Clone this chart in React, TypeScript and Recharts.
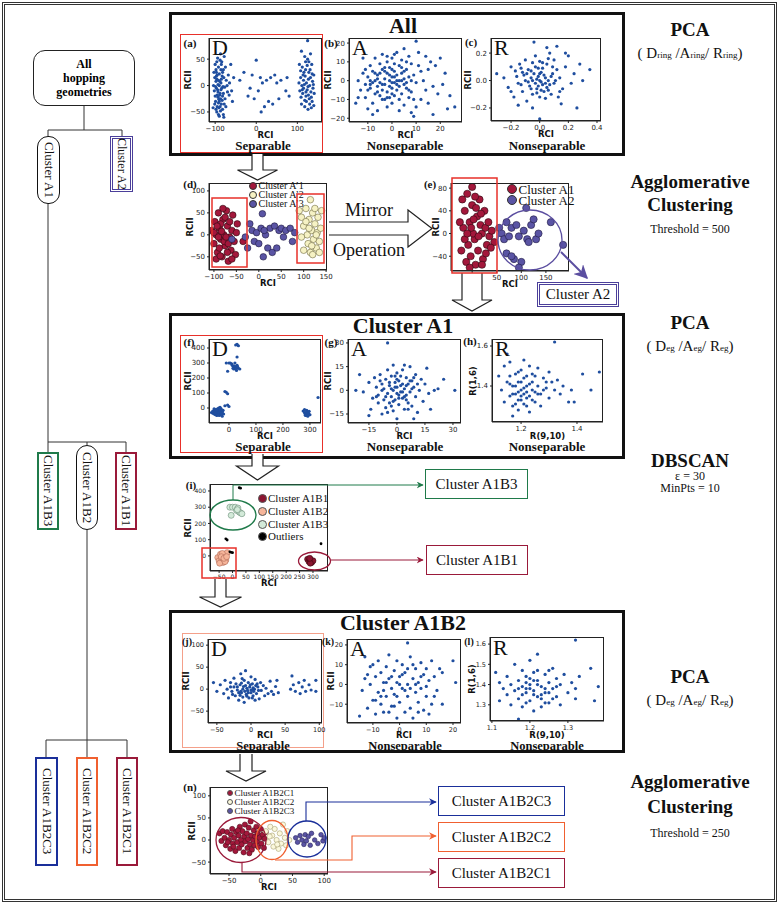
import React from "react";
import { ScatterChart, Scatter, XAxis, YAxis } from "recharts";

type Pt = [number, number];

const SERIF = '"Liberation Serif", serif';
const SANS = '"DejaVu Sans", sans-serif';
const BLUE = "#1f4e9f";

// (a) All, D
const allD: Pt[] = [
  [-100, 40], [-98, 30], [-95, 20], [-92, 10], [-90, 0], [-97, -5], [-102, -10], [-88, -15], [-93, -22], [-99, -30],
  [-85, -35], [-91, -42], [-96, -50], [-80, -55], [-87, 60], [-78, 55], [-84, 45], [-75, 35], [-82, 25], [-79, 15],
  [-86, 5], [-77, -3], [-94, -8], [-89, -18], [-83, -28], [-101, 15], [-104, 0], [-97, 25], [-92, 35], [-88, 48],
  [-100, -20], [-95, -40], [-90, -58], [-82, -45], [-76, -25], [-73, 10], [-70, -12], [-68, 20], [-65, 5], [-60, -10],
  [-55, 15], [-58, -30], [-62, 40], [-85, 12], [-93, 2], [-98, 8], [-86, -8], [-81, -2], [-90, -30], [-96, 45],
  [-105, -42], [-103, 25], [-80, 30], [-74, -40], [-79, -60], [-92, -55], [-87, -48], [-94, 52], [-71, 0], [-66, -18],
  [-99, -2], [-96, 12], [-93, -12], [-90, 22], [-87, -25], [-84, -5], [-101, -35], [-95, -18], [-89, 8], [-83, 18],
  [-80, -15], [-78, -35], [-92, -33], [-86, 30], [-98, -45], [-82, -20], [-88, -40], [-97, 18], [-91, -26], [-85, 40],
  [-30, 25], [-20, -20], [-10, 20], [0, 48], [5, -10], [10, 15], [15, 5], [20, -40], [25, 10], [30, -30],
  [35, 15], [40, -35], [45, 20], [50, 5], [12, -50], [-5, -25], [60, 10], [72, -10], [75, 15], [80, -20],
  [-40, 10], [-15, -5], [55, -25],
  [110, 65], [118, 55], [125, 50], [132, 60], [105, 40], [112, 35], [120, 30], [128, 25], [135, 40], [140, 20],
  [108, 15], [115, 10], [122, 5], [130, 0], [138, -5], [106, -10], [113, -15], [121, -20], [129, -25], [136, -30],
  [110, -35], [118, -40], [126, -45], [134, -42], [140, -38], [125, 85], [115, -5], [127, 12], [133, -12], [119, 18],
  [111, 0], [124, -8], [131, 30], [137, 8], [116, 25], [122, -30], [109, -22], [128, 45], [141, -15], [104, 5],
  [114, 20], [121, -12], [127, -18], [132, 15], [118, -28], [124, 38], [112, -8], [130, -35], [136, 22], [120, 45],
  [117, 2], [126, -2], [134, -22], [108, 28], [139, 2],
];

// (b) All, A
const allA: Pt[] = [
  [-15, -12], [-14, 0], [-13, -5], [-12, 4], [-11, -9], [-10, 2], [-10, -15], [-9, 8], [-9, -4], [-8, -12],
  [-8, 5], [-7, 0], [-7, -7], [-7, 12], [-6, 3], [-6, -3], [-6, -16], [-5, 9], [-5, -1], [-5, -8],
  [-4, 6], [-4, -5], [-4, 14], [-3, 1], [-3, -2], [-3, -10], [-2, 4], [-2, -6], [-2, 10], [-1, 0],
  [-1, -3], [-1, 7], [0, 2], [0, -4], [0, 12], [0, -12], [1, 5], [1, -1], [1, -8], [2, 3],
  [2, -5], [2, 15], [3, 0], [3, 8], [3, -3], [4, -7], [4, 4], [4, 11], [5, -2], [5, 1],
  [5, -13], [6, 6], [6, -4], [7, 2], [7, -9], [7, 13], [8, 9], [8, -6], [8, -17], [9, 3],
  [9, -19], [10, 21], [10, -1], [10, -14], [11, 15], [11, 8], [12, -10], [12, 5], [13, 0], [14, -5],
  [14, 13], [15, 6], [15, -12], [16, 10], [17, -18], [17, -3], [18, 8], [19, -7], [20, 12], [21, -2],
  [22, 4], [23, -15], [24, -8], [26, -14], [-12, 12], [-8, -18], [-11, 6], [-14, -9], [-9, -2], [3, -16],
  [5, 17], [-2, -14], [-6, 1], [-3, 5], [1, 2], [-4, -2], [2, -2], [0, 6], [-1, -9], [4, 0],
  [-5, 4], [-4, -10], [-2, -9], [-1, 3], [0, -7], [1, 9], [2, 0], [3, -10], [4, 7], [6, -1],
  [6, 10], [7, -5], [-6, -6], [-7, 4], [-8, -1], [-10, -5], [-11, -2], [-3, 7], [8, 0], [9, -10],
  [1, 14], [-2, 13], [5, 5], [0, -1], [-9, 0],
];

// (c) All, R
const allR: Pt[] = [
  [-0.3, 0.05], [-0.25, 0.02], [-0.22, -0.05], [-0.2, 0.1], [-0.18, -0.12], [-0.16, 0.03], [-0.15, -0.02], [-0.14, 0.12],
  [-0.12, -0.08], [-0.12, 0.06], [-0.1, 0.0], [-0.1, 0.15], [-0.09, -0.15], [-0.08, 0.08], [-0.07, -0.04], [-0.06, 0.02],
  [-0.05, 0.13], [-0.05, -0.1], [-0.04, 0.05], [-0.03, -0.02], [-0.03, 0.1], [-0.02, -0.06], [-0.01, 0.03], [0, 0.0],
  [0, -0.12], [0, 0.14], [0.01, 0.06], [0.02, -0.03], [0.02, 0.09], [0.03, -0.08], [0.04, 0.02], [0.05, 0.12],
  [0.05, -0.05], [0.06, 0.0], [0.07, 0.2], [0.08, -0.1], [0.09, 0.05], [0.1, -0.02], [0.1, 0.15], [0.12, 0.08],
  [0.13, -0.12], [0.14, 0.02], [0.16, -0.06], [0.18, 0.1], [0.2, 0.18], [0.22, -0.02], [0.24, 0.05], [0.26, -0.2],
  [0.28, 0.12], [0.3, 0.0], [0.35, 0.08], [0.05, 0.24], [-0.04, 0.28], [0.12, 0.25], [0.0, -0.28], [-0.15, -0.18],
  [-0.05, -0.2], [0.15, -0.17], [-0.2, -0.08], [0.18, 0.2], [-0.08, -0.01], [0.03, 0.04], [-0.01, -0.04], [0.08, 0.03],
  [-0.11, 0.04], [-0.06, 0.07], [0.01, -0.01], [-0.02, 0.01], [0.06, -0.07], [-0.13, -0.03],
  [-0.05, 0.0], [0.0, 0.05], [0.04, -0.02], [-0.02, -0.09], [0.02, 0.13], [-0.09, 0.05], [0.07, -0.03], [0.11, 0.0],
  [-0.13, 0.09], [-0.06, -0.06], [0.09, 0.1], [0.01, -0.07], [-0.03, 0.18], [0.06, 0.16], [0.14, -0.08], [-0.17, 0.07],
  [-0.01, 0.09], [0.04, -0.13],
];

// (d) agglomerative, before mirror
const dA1: Pt[] = [
  [-105, 10], [-100, -20], [-98, 30], [-95, 0], [-92, -40], [-90, 50], [-88, 15], [-85, -10], [-82, -50], [-80, 35],
  [-78, 0], [-75, -25], [-72, 55], [-70, 20], [-68, -60], [-65, -5], [-62, -35], [-60, 10], [-58, 45], [-55, -15],
  [-52, -45], [-50, 5], [-48, 25], [-95, -55], [-88, -30], [-80, 60], [-75, 40], [-70, -40], [-65, 30], [-100, 5],
  [-85, 25], [-77, -15], [-90, -5], [-83, 8], [-73, -5], [-68, -20], [-93, 20], [-86, -48], [-60, -55], [-35, -15],
];
const dA2: Pt[] = [
  [90, 55], [95, 40], [100, 20], [105, 60], [108, 0], [110, -20], [112, 35], [115, -40], [118, 10], [120, 50],
  [122, -10], [125, 25], [128, -30], [130, 5], [132, 40], [135, -15], [138, 15], [140, 55], [115, 80], [100, -35],
  [105, 30], [120, -45], [112, 15], [128, 0], [135, -40], [95, -5], [125, 60], [118, -25],
];
const dA3: Pt[] = [
  [-30, -5], [-20, 25], [-15, 10], [-10, -15], [-5, 5], [0, -20], [5, 15], [10, -50], [8, 48], [15, 0],
  [20, -30], [25, 15], [30, -40], [35, 20], [40, -30], [45, 10], [50, 15], [55, -5], [60, 10], [70, 15],
  [75, -15], [80, 5], [-60, -10], [-25, -30], [12, 10],
];

// (e) after mirror
const eA1: Pt[] = [
  [-20, 60], [-15, 40], [-10, 70], [-5, 20], [0, 50], [5, -10], [10, 30], [15, 60], [20, 0], [25, 40],
  [30, -20], [-22, -30], [-18, 10], [-12, -50], [-8, -20], [-3, -40], [2, 0], [7, -55], [12, -30], [17, 15],
  [22, -45], [27, 10], [35, -5], [40, 5], [45, -15], [-25, 20], [0, 82], [-5, -60], [3, 25], [8, 45],
  [-15, -10], [13, -5], [18, 35], [28, -35], [33, 20], [-2, 10], [6, 65], [-10, 0], [20, -55], [38, -25],
];
const eA2: Pt[] = [
  [55, 10], [60, 0], [65, -10], [70, 20], [75, -5], [80, 10], [85, -45], [90, 15], [95, -5], [100, -50],
  [105, 5], [110, 45], [112, -10], [120, 15], [125, 25], [130, -10], [135, 0], [160, 20], [185, -20], [70, -35],
  [80, -40], [95, -60], [115, -15],
];

// (f) Cluster A1, D
const a1D: Pt[] = [
  [-60, -20], [-55, -40], [-50, -10], [-48, -30], [-45, -50], [-42, -15], [-40, -35], [-38, 0], [-35, -25], [-32, -45],
  [-30, -10], [-28, -30], [-25, -55], [-55, -5], [-45, -25], [-35, -40], [-50, -45], [-40, -5], [-30, -20], [-60, -35],
  [-20, -40], [-15, 15], [-5, 20], [0, 10], [-65, -30], [-33, 5], [-22, -15],
  [-58, -25], [-52, -20], [-47, -38], [-43, -28], [-37, -18], [-36, -50], [-27, -40], [-24, -25], [-44, -8], [-52, -35],
  [-38, -32], [-31, -35], [-46, -15], [-41, -45], [-29, -5],
  [275, -20], [280, -30], [285, -40], [290, -25], [295, -35], [285, -50], [300, -45], [280, -10], [292, -55], [288, -15],
  [282, -38], [287, -28], [293, -45], [297, -22], [283, -48], [291, -35],
  [-10, 300], [0, 300], [10, 295], [15, 280], [20, 270], [25, 275], [30, 285], [35, 265], [18, 260], [28, 250],
  [-5, 245], [40, 260], [22, 300], [5, 300], [12, 285], [20, 280], [27, 262], [32, 275], [15, 265],
  [25, 420], [30, 425], [35, 415], [-15, 110], [-10, 105], [-5, 95], [30, 340], [330, 70],
];

// (g) Cluster A1, A
const a1A: Pt[] = [
  [-22, 0], [-20, 10], [-18, -1], [-15, 5], [-14, -12], [-13, -5], [-12, 8], [-11, 2], [-10, -8], [-10, -3],
  [-9, 10], [-8, -15], [-8, 4], [-7, -6], [-7, 1], [-6, 7], [-6, -11], [-5, -2], [-5, 13], [-4, 3],
  [-4, -8], [-3, -4], [-3, 9], [-2, 0], [-2, -13], [-1, 5], [-1, -6], [0, 2], [0, -2], [0, 11],
  [1, -9], [1, 6], [2, -1], [2, 3], [3, -5], [3, 13], [4, 1], [4, -12], [5, 8], [5, -3],
  [6, 4], [6, -8], [7, -1], [7, 15], [8, 6], [8, -10], [9, 2], [10, -4], [10, 10], [11, -14],
  [12, 0], [13, 7], [14, -7], [15, 4], [16, 14], [17, -2], [18, -12], [20, 0], [22, 1], [25, 7],
  [31, 0], [-5, 30], [0, -18], [-15, -16], [9, -18], [-3, 1], [1, -3], [3, 4], [-1, 9], [5, -6],
  [-6, -4], [-4, 5], [-2, -7], [-1, 2], [0, 7], [1, -5], [2, 9], [3, -1], [4, -4], [5, 3],
  [6, -12], [7, 6], [-3, -10], [-8, 0], [-9, 6], [-11, -4], [8, 1], [9, 8], [-5, -14], [11, 4],
  [-2, 16], [4, 16],
];

// (h) Cluster A1, R
const a1R: Pt[] = [
  [1.12, 1.45], [1.13, 1.38], [1.14, 1.5], [1.14, 1.32], [1.15, 1.42], [1.16, 1.35], [1.16, 1.52], [1.17, 1.4],
  [1.17, 1.3], [1.18, 1.46], [1.18, 1.36], [1.19, 1.42], [1.19, 1.28], [1.2, 1.38], [1.2, 1.48], [1.2, 1.33],
  [1.21, 1.44], [1.21, 1.36], [1.22, 1.4], [1.22, 1.3], [1.23, 1.5], [1.23, 1.35], [1.24, 1.42], [1.24, 1.38],
  [1.25, 1.45], [1.25, 1.32], [1.26, 1.4], [1.27, 1.36], [1.28, 1.44], [1.29, 1.39], [1.3, 1.34], [1.31, 1.42],
  [1.32, 1.38], [1.33, 1.43], [1.35, 1.4], [1.37, 1.32], [1.38, 1.38], [1.39, 1.32], [1.42, 1.46], [1.45, 1.38],
  [1.48, 1.47], [1.32, 1.62], [1.17, 1.25], [1.3, 1.47], [1.15, 1.56], [1.21, 1.53], [1.26, 1.49], [1.18, 1.31],
  [1.23, 1.27], [1.27, 1.3], [1.34, 1.36], [1.2, 1.42], [1.19, 1.37], [1.22, 1.34], [1.24, 1.46], [1.16, 1.41],
  [1.19, 1.33], [1.21, 1.39], [1.22, 1.45], [1.24, 1.33], [1.25, 1.37], [1.18, 1.4], [1.2, 1.35], [1.23, 1.41],
  [1.26, 1.36], [1.17, 1.36], [1.28, 1.38], [1.21, 1.31], [1.19, 1.47], [1.22, 1.37], [1.16, 1.45], [1.29, 1.42],
];

// (i) DBSCAN
const iB1: Pt[] = [[280, -20], [285, -35], [290, -25], [295, -40], [300, -30], [290, -45], [288, -15]];
const iB2: Pt[] = [
  [-55, -10], [-50, -30], [-45, 10], [-40, -20], [-35, -40], [-30, 0], [-25, -25], [-20, 20], [-48, -45], [-38, 15],
  [-28, -35], [-42, -5], [-32, -15], [-22, -5],
];
const iB3: Pt[] = [[-10, 300], [0, 300], [10, 300], [15, 280], [20, 295], [25, 270], [30, 265], [-5, 250], [35, 260], [18, 285]];
const iOut: Pt[] = [[25, 420], [30, 417], [-25, 105], [-20, 98], [-10, 25], [-5, 22], [0, 20], [330, 75]];

// (j) Cluster A1B2, D
const b2D: Pt[] = [
  [-55, 15], [-50, -5], [-45, 10], [-40, -10], [-38, 20], [-35, 0], [-33, -20], [-30, 15], [-28, -5], [-25, 25],
  [-23, -15], [-20, 5], [-18, -25], [-16, 10], [-15, 35], [-14, -8], [-12, 0], [-10, 20], [-10, -30], [-8, 8],
  [-7, -12], [-5, -3], [-4, 15], [-3, -20], [-2, 5], [0, -8], [0, 28], [2, 12], [3, -15], [5, 0],
  [6, 22], [8, -10], [10, 5], [12, -22], [14, 15], [15, -3], [18, 8], [20, -15], [22, 2], [25, -10],
  [28, 18], [30, -5], [33, -12], [36, 6], [38, 20], [40, -8], [-8, 42], [-20, -2], [-12, -18], [3, 3],
  [-18, -8], [-14, 14], [-11, 6], [-9, -5], [-6, -16], [-4, -8], [-1, 10], [0, -2], [4, -5], [7, 8],
  [-22, 12], [-27, -12], [-30, 5], [11, -3], [-16, -14], [2, -20], [6, -25], [-13, 24],
  [60, 30], [62, 10], [65, -5], [70, 15], [72, -10], [75, 5], [78, 20], [80, -5], [85, 10], [88, -2],
  [95, 20], [95, -5], [58, 0], [-6, 2], [-15, -5], [1, -2], [-25, 5], [9, 12],
];

// (k) Cluster A1B2, A
const b2A: Pt[] = [
  [-15, -16], [-14, -3], [-13, 14], [-12, -12], [-12, 5], [-11, 0], [-10, 10], [-10, -8], [-9, -15], [-9, 4],
  [-8, 12], [-8, -4], [-7, -10], [-7, 6], [-6, 1], [-6, -14], [-5, 9], [-5, -6], [-4, 15], [-4, 3],
  [-3, -2], [-3, -11], [-2, 7], [-2, -5], [-1, 12], [-1, 1], [0, -9], [0, 4], [1, -2], [1, 10],
  [2, -14], [2, 6], [3, 21], [3, 0], [3, -6], [4, 14], [4, -12], [5, 3], [5, -17], [6, 8],
  [6, -4], [7, -9], [7, 1], [8, 11], [8, -2], [9, 5], [9, -13], [10, -6], [10, 8], [11, 2],
  [12, -10], [12, 12], [13, 4], [14, -3], [15, 8], [16, -10], [16, 6], [20, 12], [21, 1], [-1, -17],
  [-13, 3], [11, -15], [-6, -3], [-3, 4], [-1, -6], [0, 0], [2, -3], [3, 8], [4, -2], [5, 10],
  [-5, 1], [-7, -6], [7, -14], [8, 4], [-2, -11], [1, 5], [6, 0], [-9, -8], [10, -1], [-11, 9],
  [13, -6], [-4, -14],
];

// (l) Cluster A1B2, R
const b2R: Pt[] = [
  [1.11, 1.46], [1.12, 1.41], [1.12, 1.32], [1.13, 1.38], [1.14, 1.44], [1.14, 1.35], [1.15, 1.4], [1.15, 1.3],
  [1.16, 1.5], [1.16, 1.37], [1.17, 1.42], [1.17, 1.33], [1.17, 1.23], [1.18, 1.47], [1.18, 1.39], [1.18, 1.29],
  [1.19, 1.44], [1.19, 1.36], [1.2, 1.52], [1.2, 1.4], [1.2, 1.32], [1.21, 1.46], [1.21, 1.37], [1.22, 1.42],
  [1.22, 1.34], [1.22, 1.55], [1.23, 1.39], [1.23, 1.29], [1.24, 1.45], [1.24, 1.36], [1.25, 1.41], [1.25, 1.31],
  [1.26, 1.48], [1.26, 1.38], [1.27, 1.43], [1.27, 1.34], [1.28, 1.4], [1.28, 1.3], [1.29, 1.45], [1.3, 1.36],
  [1.31, 1.41], [1.32, 1.38], [1.32, 1.33], [1.33, 1.44], [1.36, 1.48], [1.37, 1.32], [1.38, 1.39], [1.32, 1.62],
  [1.25, 1.47], [1.21, 1.27], [1.2, 1.38], [1.23, 1.35], [1.19, 1.41],
  [1.19, 1.38], [1.21, 1.35], [1.22, 1.4], [1.24, 1.38], [1.2, 1.43], [1.23, 1.33], [1.18, 1.35], [1.25, 1.36],
  [1.22, 1.47], [1.26, 1.33], [1.17, 1.38], [1.27, 1.39], [1.21, 1.42], [1.24, 1.31], [1.19, 1.31],
];

// (n) agglomerative on A1B2
const nC1: Pt[] = [
  [-65, 15], [-62, -2], [-60, 20], [-57, 5], [-55, -12], [-53, 18], [-50, 0], [-48, -20], [-47, 12], [-45, 25],
  [-44, -8], [-42, 5], [-40, -25], [-39, 18], [-37, -5], [-35, 10], [-34, -18], [-33, 30], [-31, 0], [-30, -10],
  [-29, 20], [-27, -28], [-26, 8], [-25, 35], [-24, -3], [-22, 15], [-21, -18], [-20, 2], [-19, 28], [-17, -10],
  [-16, 42], [-15, 10], [-14, -22], [-12, 0], [-11, 22], [-10, -12], [-9, 8], [-7, 30], [-6, -4], [-5, 15],
  [-4, -16], [-2, 5], [0, 25], [1, -8], [3, 12], [5, -18], [6, 3], [8, 18], [-18, -30], [-36, 22],
  [-52, -5], [-43, -15],
];
const nC2: Pt[] = [
  [8, 20], [12, -5], [15, 30], [18, 10], [20, -15], [22, 25], [25, 0], [28, -20], [30, 15], [32, -8],
  [35, 35], [38, 5], [40, -12], [42, 20], [45, 0], [14, 8], [26, -10],
];
const nC3: Pt[] = [
  [55, 5], [58, -5], [62, 10], [65, 0], [68, -10], [70, 12], [72, -2], [75, 8], [78, -12], [80, 15],
  [85, 0], [90, -8], [95, 12], [98, -2], [100, 5],
];

interface Series {
  data: Pt[];
  fill: string;
  stroke?: string;
  r: number;
}

interface PlotProps {
  L: number;
  T: number;
  W: number;
  H: number;
  xDomain: [number, number];
  yDomain: [number, number];
  xTicks: number[];
  yTicks: number[];
  xLabel?: string;
  yLabel?: string;
  xOff?: number;
  yOff?: number;
  series: Series[];
  fmt?: (v: number) => string;
  tickFont?: number;
}

const minus = (v: number) => String(v).replace("-", "\u2212");
const oneDec = (v: number) => v.toFixed(1).replace("-", "\u2212");

function MiniScatter(p: PlotProps) {
  const fmt = p.fmt ?? minus;
  const tf = p.tickFont ?? 7;
  const labelStyle: React.CSSProperties = {
    position: "absolute",
    fontSize: 8.5,
    fontWeight: 700,
    color: "#111",
    fontFamily: SANS,
    whiteSpace: "nowrap",
    lineHeight: 1,
  };
  return (
    <div style={{ position: "absolute", left: p.L - 32, top: p.T - 2 }}>
      <ScatterChart width={p.W + 42} height={p.H + 16} margin={{ top: 2, right: 10, bottom: 0, left: 0 }}>
        <XAxis
          type="number"
          dataKey="x"
          domain={p.xDomain}
          ticks={p.xTicks}
          allowDataOverflow
          interval={0}
          height={14}
          tickSize={2}
          tick={{ fontSize: tf, fill: "#222", fontFamily: SANS }}
          tickFormatter={fmt}
          axisLine={{ stroke: "#222" }}
          tickLine={{ stroke: "#222" }}
        />
        <YAxis
          type="number"
          dataKey="y"
          domain={p.yDomain}
          ticks={p.yTicks}
          allowDataOverflow
          interval={0}
          width={32}
          tickSize={2}
          tick={{ fontSize: tf, fill: "#222", fontFamily: SANS }}
          tickFormatter={fmt}
          axisLine={{ stroke: "#222" }}
          tickLine={{ stroke: "#222" }}
        />
        {p.series.map((s, i) => (
          <Scatter
            key={i}
            data={s.data.map(([x, y]) => ({ x, y }))}
            isAnimationActive={false}
            shape={(d: any) => (
              <circle cx={d.cx} cy={d.cy} r={s.r} fill={s.fill} stroke={s.stroke ?? "none"} strokeWidth={0.6} />
            )}
          />
        ))}
      </ScatterChart>
      <div
        style={{
          position: "absolute",
          left: 32,
          top: 2,
          width: p.W,
          height: p.H,
          border: "1.4px solid #222",
          boxSizing: "border-box",
          pointerEvents: "none",
        }}
      />
      <div style={{ ...labelStyle, left: 32 + p.W / 2, top: 2 + p.H + (p.xOff ?? 13), transform: "translate(-50%, -50%)" }}>
        {p.xLabel ?? "RCI"}
      </div>
      <div
        style={{
          ...labelStyle,
          left: 32 - (p.yOff ?? 20),
          top: 2 + p.H / 2,
          transform: "translate(-50%, -50%) rotate(-90deg)",
        }}
      >
        {p.yLabel ?? "RCII"}
      </div>
    </div>
  );
}

function Txt(props: {
  x: number;
  y: number;
  size?: number;
  bold?: boolean;
  color?: string;
  family?: string;
  align?: "middle" | "start";
  children: React.ReactNode;
}) {
  const { x, y, size = 12, bold = false, color = "#111", family = SERIF, align = "middle", children } = props;
  return (
    <div
      style={{
        position: "absolute",
        left: x,
        top: y,
        transform: align === "middle" ? "translate(-50%, -50%)" : "translate(0, -50%)",
        fontSize: size,
        fontWeight: bold ? 700 : 400,
        color,
        fontFamily: family,
        whiteSpace: "nowrap",
        lineHeight: 1,
      }}
    >
      {children}
    </div>
  );
}

function Box(props: {
  x1: number;
  y1: number;
  x2: number;
  y2: number;
  color?: string;
  bw?: number;
  style?: string;
  radius?: number;
  children?: React.ReactNode;
  vertical?: boolean;
  size?: number;
}) {
  const { x1, y1, x2, y2, color = "#111", bw = 1, style = "solid", radius = 0, children, vertical, size = 15 } = props;
  return (
    <div
      style={{
        position: "absolute",
        left: x1,
        top: y1,
        width: x2 - x1,
        height: y2 - y1,
        border: `${bw}px ${style} ${color}`,
        borderRadius: radius,
        boxSizing: "border-box",
        background: children ? "#fff" : "transparent",
        display: "flex",
        alignItems: "center",
        justifyContent: "center",
        fontFamily: SERIF,
        fontSize: size,
        color: "#111",
        whiteSpace: "nowrap",
        writingMode: vertical ? "vertical-rl" : undefined,
      }}
    >
      {children}
    </div>
  );
}

function DownArrow({ x1, x2, top, head, half, tip }: { x1: number; x2: number; top: number; head: number; half: number; tip: number }) {
  const c = (x1 + x2) / 2;
  const pts = `${x1},${top} ${x1},${head} ${c - half},${head} ${c},${tip} ${c + half},${head} ${x2},${head} ${x2},${top}`;
  return <polyline points={pts} fill="#fff" stroke="#222" strokeWidth={1.2} />;
}

function Sub({ base, sub }: { base: string; sub: string }) {
  return (
    <span>
      {base}
      <span style={{ fontSize: 9 }}>{sub}</span>
    </span>
  );
}

function LegendRows({ rows, x, r, size, stroke }: { rows: [string, string, number][]; x: number; r: number; size: number; stroke: string }) {
  return (
    <>
      {rows.map(([t, c, y]) => (
        <React.Fragment key={t}>
          <div
            style={{
              position: "absolute",
              left: x - r,
              top: y - r,
              width: 2 * r,
              height: 2 * r,
              borderRadius: r,
              background: c,
              border: `0.6px solid ${stroke}`,
              boxSizing: "border-box",
            }}
          />
          <Txt x={x + r + 1.5} y={y} size={size} align="start">{t}</Txt>
        </React.Fragment>
      ))}
    </>
  );
}

export default function App() {
  const red = "#a3173b";
  const purple = "#5a54a4";
  const sepSize = 13;
  return (
    <div style={{ position: "relative", width: 780, height: 905, background: "#fff", overflow: "hidden" }}>
      <style>{`body{margin:0}`}</style>

      {/* outer frame */}
      <div style={{ position: "absolute", left: 2, top: 2, width: 775, height: 900, border: "3px double #333", boxSizing: "border-box" }} />

      {/* panel boxes */}
      <Box x1={169} y1={12} x2={625} y2={156} bw={3} />
      <Box x1={169} y1={313} x2={625} y2={459} bw={3} />
      <Box x1={169} y1={610} x2={625} y2={753} bw={3} />
      <Txt x={403} y={26} size={22} bold>All</Txt>
      <Txt x={403} y={326} size={22} bold>Cluster A1</Txt>
      <Txt x={403} y={623} size={22} bold>Cluster A1B2</Txt>

      {/* red highlight boxes */}
      <Box x1={180} y1={34} x2={323} y2={153} color="#e8302a" bw={1.5} />
      <Box x1={180} y1={335} x2={323} y2={453} color="#e8302a" bw={1.5} />
      <Box x1={182} y1={633} x2={324} y2={748} color="#f4a08a" bw={1.2} />

      {/* row 1 */}
      <MiniScatter L={209} T={38} W={113} H={84} xDomain={[-115, 160]} yDomain={[-69, 90]} xTicks={[-100, 0, 100]} yTicks={[-50, 0, 50]}
        yOff={21} series={[{ data: allD, fill: BLUE, r: 1.6 }]} />
      <MiniScatter L={349} T={38} W={113} H={84} xDomain={[-17.8, 29]} yDomain={[-22, 22.7]} xTicks={[-10, 0, 10, 20]} yTicks={[-20, -10, 0, 10, 20]}
        yOff={21} series={[{ data: allA, fill: BLUE, r: 1.6 }]} />
      <MiniScatter L={491} T={38} W={110} H={83} xDomain={[-0.34, 0.428]} yDomain={[-0.295, 0.31]} xTicks={[-0.2, 0, 0.2, 0.4]} yTicks={[-0.2, 0, 0.2]}
        yOff={23} fmt={oneDec} series={[{ data: allR, fill: BLUE, r: 1.6 }]} />

      {/* row 2 */}
      <MiniScatter L={209} T={183} W={118} H={87} xDomain={[-111, 152]} yDomain={[-80, 118]} xTicks={[-100, -50, 0, 50, 100, 150]} yTicks={[-50, 0, 50, 100]}
        yOff={19}
        series={[
          { data: dA1, fill: red, stroke: "#2a0a10", r: 3.3 },
          { data: dA2, fill: "#f6f2c4", stroke: "#6e6a40", r: 3.3 },
          { data: dA3, fill: purple, stroke: "#1e1a40", r: 3.3 },
        ]} />
      <MiniScatter L={451} T={183} W={118} H={88} xDomain={[-43, 197]} yDomain={[-66, 89]} xTicks={[0, 50, 100, 150]} yTicks={[-40, 0, 40, 80]}
        yOff={15}
        series={[
          { data: eA1, fill: red, stroke: "#2a0a10", r: 3.6 },
          { data: eA2, fill: purple, stroke: "#1e1a40", r: 3.6 },
        ]} />

      {/* row 3 */}
      <MiniScatter L={209} T={339} W={112} H={84} xDomain={[-74, 341]} yDomain={[-100, 460]} xTicks={[0, 100, 200, 300]} yTicks={[0, 100, 200, 300, 400]}
        yOff={21} series={[{ data: a1D, fill: BLUE, r: 1.6 }]} />
      <MiniScatter L={348} T={339} W={113} H={84} xDomain={[-26.2, 34.3]} yDomain={[-20.7, 32.5]} xTicks={[-15, 0, 15, 30]} yTicks={[-15, 0, 15, 30]}
        yOff={20} series={[{ data: a1A, fill: BLUE, r: 1.6 }]} />
      <MiniScatter L={492} T={339} W={111} H={83} xDomain={[1.096, 1.493]} yDomain={[1.22, 1.635]} xTicks={[1.2, 1.4]} yTicks={[1.4, 1.6]}
        xLabel="R(9,10)" yLabel="R(1,6)" xOff={14} yOff={19} fmt={oneDec} series={[{ data: a1R, fill: BLUE, r: 1.6 }]} />

      {/* row 4 */}
      <MiniScatter L={210} T={484} W={118} H={87} xDomain={[-84, 356]} yDomain={[-93, 443]} xTicks={[-50, 0, 50, 100, 150, 200, 250, 300]} yTicks={[0, 100, 200, 300, 400]}
        tickFont={6} xOff={12} yOff={22}
        series={[
          { data: iB1, fill: "#8b1530", stroke: "#3a0810", r: 3 },
          { data: iB2, fill: "#f6b59a", stroke: "#b06a58", r: 3 },
          { data: iB3, fill: "#d3ead9", stroke: "#6b8f78", r: 3 },
          { data: iOut, fill: "#000", r: 1.4 },
        ]} />

      {/* row 5 */}
      <MiniScatter L={208} T={639} W={114} H={84} xDomain={[-63, 104]} yDomain={[-77, 114]} xTicks={[-50, 0, 50, 100]} yTicks={[-50, 0, 50, 100]}
        tickFont={6.5} xOff={12} yOff={22} series={[{ data: b2D, fill: BLUE, r: 1.6 }]} />
      <MiniScatter L={347} T={639} W={114} H={84} xDomain={[-19.7, 23]} yDomain={[-19.5, 23]} xTicks={[-10, 0, 10, 20]} yTicks={[-10, 0, 10, 20]}
        tickFont={6.5} xOff={12} yOff={16} series={[{ data: b2A, fill: BLUE, r: 1.6 }]} />
      <MiniScatter L={490} T={637} W={114} H={84} xDomain={[1.095, 1.395]} yDomain={[1.22, 1.635]} xTicks={[1.1, 1.2, 1.3]} yTicks={[1.3, 1.4, 1.5, 1.6]}
        tickFont={6.5} xLabel="R(9,10)" yLabel="R(1,6)" xOff={14} yOff={18} fmt={oneDec} series={[{ data: b2R, fill: BLUE, r: 1.6 }]} />

      {/* row 6 */}
      <MiniScatter L={210} T={787} W={118} H={87} xDomain={[-80, 106]} yDomain={[-77, 120]} xTicks={[-50, 0, 50, 100]} yTicks={[-50, 0, 50, 100]}
        yOff={18}
        series={[
          { data: nC1, fill: red, stroke: "#50101f", r: 2.6 },
          { data: nC2, fill: "#fbf8dc", stroke: "#a8a070", r: 2.6 },
          { data: nC3, fill: purple, stroke: "#2a2660", r: 2.3 },
        ]} />

      {/* subplot letters */}
      <Txt x={190} y={43} size={11} bold>(a)</Txt>
      <Txt x={331} y={43} size={11} bold>(b)</Txt>
      <Txt x={471} y={42} size={11} bold>(c)</Txt>
      <Txt x={190} y={184} size={11} bold>(d)</Txt>
      <Txt x={430} y={184} size={11} bold>(e)</Txt>
      <Txt x={189} y={342} size={11} bold>(f)</Txt>
      <Txt x={331} y={342} size={11} bold>(g)</Txt>
      <Txt x={470} y={341} size={11} bold>(h)</Txt>
      <Txt x={191} y={485} size={11} bold>(i)</Txt>
      <Txt x={187} y={642} size={10} bold>(j)</Txt>
      <Txt x={328} y={642} size={10} bold>(k)</Txt>
      <Txt x={469} y={642} size={10} bold>(l)</Txt>
      <Txt x={190} y={787} size={11} bold>(n)</Txt>

      {/* D / A / R tags */}
      <Txt x={212} y={48} size={22} align="start">D</Txt>
      <Txt x={352} y={48} size={22} align="start">A</Txt>
      <Txt x={494} y={48} size={22} align="start">R</Txt>
      <Txt x={212} y={349} size={22} align="start">D</Txt>
      <Txt x={351} y={349} size={22} align="start">A</Txt>
      <Txt x={495} y={349} size={22} align="start">R</Txt>
      <Txt x={211} y={649} size={22} align="start">D</Txt>
      <Txt x={350} y={649} size={22} align="start">A</Txt>
      <Txt x={493} y={648} size={22} align="start">R</Txt>

      {/* separability captions */}
      <Txt x={263} y={145} size={sepSize} bold>Separable</Txt>
      <Txt x={405} y={145} size={sepSize} bold>Nonseparable</Txt>
      <Txt x={547} y={145} size={sepSize} bold>Nonseparable</Txt>
      <Txt x={263} y={446} size={sepSize} bold>Separable</Txt>
      <Txt x={405} y={446} size={sepSize} bold>Nonseparable</Txt>
      <Txt x={547} y={446} size={sepSize} bold>Nonseparable</Txt>
      <Txt x={263} y={746} size={12.5} bold>Separable</Txt>
      <Txt x={405} y={746} size={12.5} bold>Nonseparable</Txt>
      <Txt x={547} y={746} size={12.5} bold>Nonseparable</Txt>

      {/* legends */}
      <LegendRows x={253} r={4} size={10} stroke="#333"
        rows={[["Cluster A\u20191", red, 186], ["Cluster A\u20192", "#f6f2c4", 195], ["Cluster A\u20193", purple, 204]]} />
      <LegendRows x={512} r={5} size={13} stroke="#333"
        rows={[["Cluster A1", red, 189], ["Cluster A2", purple, 200]]} />
      <LegendRows x={262} r={4.5} size={11} stroke="#555"
        rows={[["Cluster A1B1", "#8b1530", 498], ["Cluster A1B2", "#f6b59a", 511], ["Cluster A1B3", "#d3ead9", 524], ["Outliers", "#000", 536]]} />
      <LegendRows x={230} r={3} size={9} stroke="#555"
        rows={[["Cluster A1B2C1", red, 793], ["Cluster A1B2C2", "#fbf8dc", 802], ["Cluster A1B2C3", purple, 811]]} />

      {/* decorations and arrows */}
      <svg width={780} height={905} style={{ position: "absolute", left: 0, top: 0, pointerEvents: "none" }}>
        <defs>
          {[
            ["ag", "#1f7a4a"],
            ["ar", "#9a1a3a"],
            ["ab", "#1a2f9a"],
            ["ao", "#f06030"],
            ["ap", "#5b4ea0"],
          ].map(([id, c]) => (
            <marker key={id} id={id} viewBox="0 0 10 10" refX={9} refY={5} markerWidth={7} markerHeight={7} orient="auto">
              <path d="M0,0 L10,5 L0,10 L3,5 z" fill={c} />
            </marker>
          ))}
        </defs>

        <DownArrow x1={252} x2={263} top={154} head={170} half={20} tip={180} />
        <DownArrow x1={462} x2={482} top={273} head={300} half={20} tip={311} />
        <DownArrow x1={252} x2={263} top={454} head={466} half={21} tip={480} />
        <DownArrow x1={215} x2={226} top={579} head={597} half={21} tip={607} />
        <DownArrow x1={240} x2={252} top={754} head={771} half={20} tip={781} />

        {/* mirror operation arrow */}
        <polyline points="329,222 408,222 408,210 432,228.5 408,247 408,235 329,235" fill="#fff" stroke="#222" strokeWidth={1.2} />

        {/* (d) boxes */}
        <rect x={212} y={198} width={35} height={69} fill="none" stroke="#e8302a" strokeWidth={1.5} />
        <rect x={297} y={194} width={27} height={69} fill="none" stroke="#e8302a" strokeWidth={1.5} />
        {/* (e) box and circle */}
        <rect x={452} y={178} width={45} height={95} fill="none" stroke="#e8302a" strokeWidth={1.5} />
        <ellipse cx={530} cy={240} rx={32} ry={30} fill="none" stroke="#5b4ea0" strokeWidth={1.3} />
        <line x1={561} y1={252} x2={587} y2={278} stroke="#5b4ea0" strokeWidth={2} markerEnd="url(#ap)" />

        {/* (i) */}
        <ellipse cx={233} cy={515} rx={23} ry={15} fill="none" stroke="#1f7a4a" strokeWidth={1.4} />
        <polyline points="233,500 233,485 423,485" fill="none" stroke="#1f7a4a" strokeWidth={1} markerEnd="url(#ag)" />
        <rect x={202} y={548} width={34} height={30} fill="none" stroke="#e8302a" strokeWidth={1.5} />
        <ellipse cx={314.5} cy={561} rx={16} ry={9} fill="none" stroke="#9a1a3a" strokeWidth={1.3} />
        <polyline points="331,560 423,560" fill="none" stroke="#9a1a3a" strokeWidth={1} markerEnd="url(#ar)" />

        {/* (n) */}
        <ellipse cx={241} cy={840} rx={25} ry={22.5} fill="none" stroke="#9a1a3a" strokeWidth={1.3} />
        <ellipse cx={272} cy={840} rx={16} ry={19.5} fill="none" stroke="#f06030" strokeWidth={1.3} />
        <ellipse cx={307} cy={839} rx={19} ry={18} fill="none" stroke="#1a2f9a" strokeWidth={1.3} />
        <polyline points="306,821 306,802 436,802" fill="none" stroke="#1a2f9a" strokeWidth={1.1} markerEnd="url(#ab)" />
        <polyline points="275,860 352,860 352,836 436,836" fill="none" stroke="#f06030" strokeWidth={1.1} markerEnd="url(#ao)" />
        <polyline points="242,862 242,872 436,872" fill="none" stroke="#9a1a3a" strokeWidth={1.1} markerEnd="url(#ar)" />

        {/* tree lines */}
        <g stroke="#333" strokeWidth={1}>
          <line x1={84} y1={106} x2={84} y2={130} />
          <line x1={48} y1={130} x2={122} y2={130} />
          <line x1={48} y1={130} x2={48} y2={136} />
          <line x1={122} y1={130} x2={122} y2={136} />
          <line x1={48} y1={204} x2={48} y2={442} />
          <line x1={48} y1={442} x2={126} y2={442} />
          <line x1={48} y1={442} x2={48} y2={452} />
          <line x1={87} y1={442} x2={87} y2={445} />
          <line x1={126} y1={442} x2={126} y2={452} />
          <line x1={87} y1={530} x2={87} y2={740} />
          <line x1={46} y1={740} x2={127} y2={740} />
          <line x1={46} y1={740} x2={46} y2={757} />
          <line x1={87} y1={740} x2={87} y2={757} />
          <line x1={127} y1={740} x2={127} y2={757} />
        </g>
      </svg>

      <Txt x={369} y={210} size={18}>Mirror</Txt>
      <Txt x={369} y={250} size={18}>Operation</Txt>

      {/* cluster callout boxes */}
      <Box x1={537} y1={282} x2={619} y2={307} color="#4b3f9a" bw={3} style="double">Cluster A2</Box>
      <Box x1={425} y1={469} x2={528} y2={499} color="#1f7a4a" bw={1.5}>Cluster A1B3</Box>
      <Box x1={426} y1={545} x2={528} y2={575} color="#9a1a3a" bw={1.5}>Cluster A1B1</Box>
      <Box x1={438} y1={786} x2={565} y2={816} color="#1a2f9a" bw={1.5}>Cluster A1B2C3</Box>
      <Box x1={438} y1={822} x2={565} y2={852} color="#f06030" bw={1.5}>Cluster A1B2C2</Box>
      <Box x1={438} y1={858} x2={565} y2={888} color="#9a1a3a" bw={1.5}>Cluster A1B2C1</Box>

      {/* tree nodes */}
      <div style={{ position: "absolute", left: 33, top: 50, width: 102, height: 56, border: "1px solid #222", borderRadius: 12, boxSizing: "border-box", display: "flex", alignItems: "center", justifyContent: "center", textAlign: "center", fontFamily: SERIF, fontWeight: 700, fontSize: 12, lineHeight: "14px" }}>
        All<br />hopping<br />geometries
      </div>
      <Box x1={37} y1={136} x2={60} y2={204} radius={11} size={13} vertical>Cluster A1</Box>
      <Box x1={110} y1={136} x2={133} y2={192} color="#4b3f9a" bw={3} style="double" size={12} vertical>Cluster A2</Box>
      <Box x1={37} y1={452} x2={59} y2={530} color="#1f7a4a" bw={2} size={13} vertical>Cluster A1B3</Box>
      <Box x1={76} y1={445} x2={98} y2={530} radius={11} size={13} vertical>Cluster A1B2</Box>
      <Box x1={115} y1={452} x2={137} y2={530} color="#9a1a3a" bw={2} size={13} vertical>Cluster A1B1</Box>
      <Box x1={35} y1={757} x2={58} y2={866} color="#1a2f9a" bw={2} size={13} vertical>Cluster A1B2C3</Box>
      <Box x1={76} y1={757} x2={98} y2={866} color="#f06030" bw={2} size={13} vertical>Cluster A1B2C2</Box>
      <Box x1={116} y1={757} x2={138} y2={866} color="#9a1a3a" bw={2} size={13} vertical>Cluster A1B2C1</Box>

      {/* method descriptions */}
      <Txt x={690} y={29} size={19} bold>PCA</Txt>
      <Txt x={690} y={53} size={15}>( <Sub base="D" sub="ring" /> /<Sub base="A" sub="ring" />/ <Sub base="R" sub="ring" />)</Txt>
      <Txt x={690} y={181} size={19} bold>Agglomerative</Txt>
      <Txt x={690} y={204} size={19} bold>Clustering</Txt>
      <Txt x={690} y={229} size={12}>Threshold = 500</Txt>
      <Txt x={690} y={322} size={19} bold>PCA</Txt>
      <Txt x={690} y={346} size={15}>( <Sub base="D" sub="eg" /> /<Sub base="A" sub="eg" />/ <Sub base="R" sub="eg" />)</Txt>
      <Txt x={690} y={460} size={19} bold>DBSCAN</Txt>
      <Txt x={690} y={476} size={12}>ε = 30</Txt>
      <Txt x={690} y={488} size={12}>MinPts = 10</Txt>
      <Txt x={690} y={676} size={19} bold>PCA</Txt>
      <Txt x={690} y={700} size={15}>( <Sub base="D" sub="eg" /> /<Sub base="A" sub="eg" />/ <Sub base="R" sub="eg" />)</Txt>
      <Txt x={690} y={781} size={19} bold>Agglomerative</Txt>
      <Txt x={690} y={806} size={19} bold>Clustering</Txt>
      <Txt x={690} y={833} size={12}>Threshold = 250</Txt>
    </div>
  );
}
